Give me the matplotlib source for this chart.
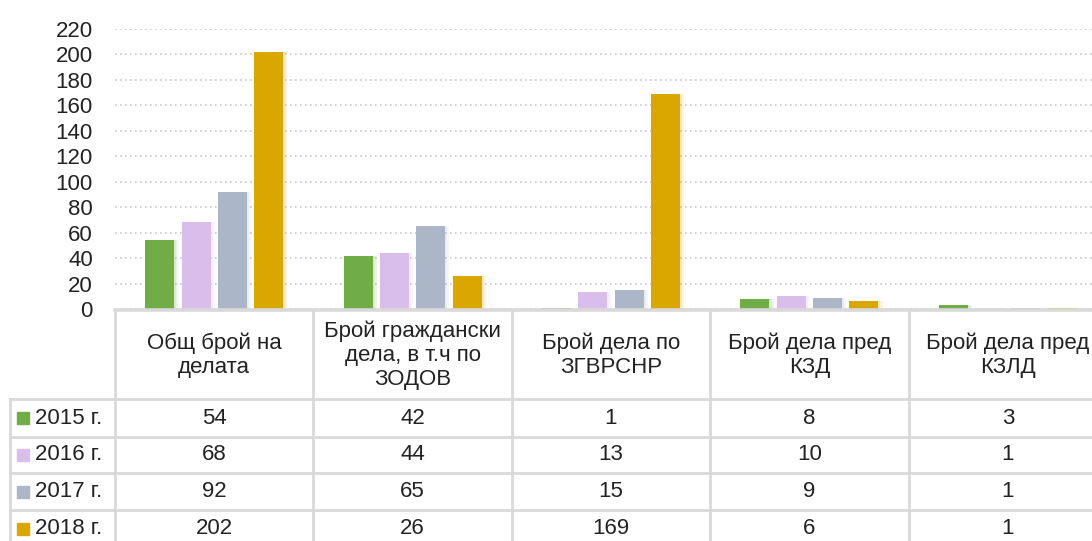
import numpy as np
import matplotlib.pyplot as plt
import matplotlib.transforms as mtransforms
import matplotlib.patheffects as pe

categories = ["Общ брой на\nделата", "Брой граждански\nдела, в т.ч по\nЗОДОВ",
              "Брой дела по\nЗГВРСНР", "Брой дела пред\nКЗД", "Брой дела пред\nКЗЛД"]
years = ["2015 г.", "2016 г.", "2017 г.", "2018 г."]
v2015 = [54, 42, 1, 8, 3]
v2016 = [68, 44, 13, 10, 1]
v2017 = [92, 65, 15, 9, 1]
v2018 = [202, 26, 169, 6, 1]
series = [v2015, v2016, v2017, v2018]
colors = ["#70ad47", "#d9bdea", "#abb7c9", "#d9a700"]

plt.rcParams['font.family'] = ['Liberation Sans', 'DejaVu Sans']

W, H = 1092, 541
fig = plt.figure(figsize=(W / 100, H / 100), dpi=100)
# axes spans x 115..1107, y 29..309 (pixels)
ax = fig.add_axes([115 / W, (H - 309) / H, 992 / W, 280 / H])
ax.set_xlim(-0.5, 4.5)
ax.set_ylim(0, 220)

x = np.arange(len(categories))
step, width = 0.183, 0.146
for i, (vals, c) in enumerate(zip(series, colors)):
    bars = ax.bar(x + (i - 1.5) * step, vals, width, color=c, zorder=3)
    # soft glow on the right side of each bar
    for b in bars:
        b.set_path_effects([pe.SimplePatchShadow(offset=(3, 0), shadow_rgbFace=c, alpha=0.12),
                            pe.SimplePatchShadow(offset=(1.5, 0), shadow_rgbFace=c, alpha=0.15),
                            pe.Normal()])

ax.set_yticks(range(0, 221, 20))
ax.yaxis.grid(True, linestyle=(0, (1, 2)), color="#c8c8c8", linewidth=1.2, zorder=0)
ax.tick_params(axis='y', length=0, labelsize=16, pad=16, colors="#222222")
ax.set_xticks([])
for s in ax.spines.values():
    s.set_visible(False)

# table under the chart: x in data units, y in figure pixels
tr = mtransforms.blended_transform_factory(ax.transData, fig.transFigure)
def fy(p):
    return (H - p) / H

grid_c = "#d9d9d9"
lw = 2
left = -1.029
right = 4.5
top, head_bot = 309.5, 399
row_lines = [399, 437, 473, 510, 547]

ax.plot([-0.5, right], [fy(top), fy(top)], color=grid_c, lw=2.6, transform=tr,
        clip_on=False, zorder=5)
for yp in row_lines:
    ax.plot([left, right], [fy(yp), fy(yp)], color=grid_c, lw=lw, transform=tr, clip_on=False)
for xc in np.arange(-0.5, 4.6, 1.0):
    ax.plot([xc, xc], [fy(top), fy(H + 10)], color=grid_c, lw=lw, transform=tr, clip_on=False)
ax.plot([left, left], [fy(head_bot), fy(H + 10)], color=grid_c, lw=lw, transform=tr, clip_on=False)

for j, cat in enumerate(categories):
    ax.text(j, fy((top + head_bot) / 2 + 1), cat, transform=tr, ha='center', va='center',
            fontsize=16, color="#222222", linespacing=1.2, clip_on=False)

for r, (yr, vals, c) in enumerate(zip(years, series, colors)):
    yc = fy((row_lines[r] + row_lines[r + 1]) / 2)
    ax.plot([left + 0.067], [yc], marker='s', markersize=9, color=c, transform=tr,
            clip_on=False, linestyle='none')
    ax.text(left + 0.125, yc, yr, transform=tr, ha='left', va='center',
            fontsize=16, color="#222222", clip_on=False)
    for j, v in enumerate(vals):
        ax.text(j, yc, str(v), transform=tr, ha='center', va='center',
                fontsize=16, color="#222222", clip_on=False)

fig.savefig("out.png", dpi=100)
